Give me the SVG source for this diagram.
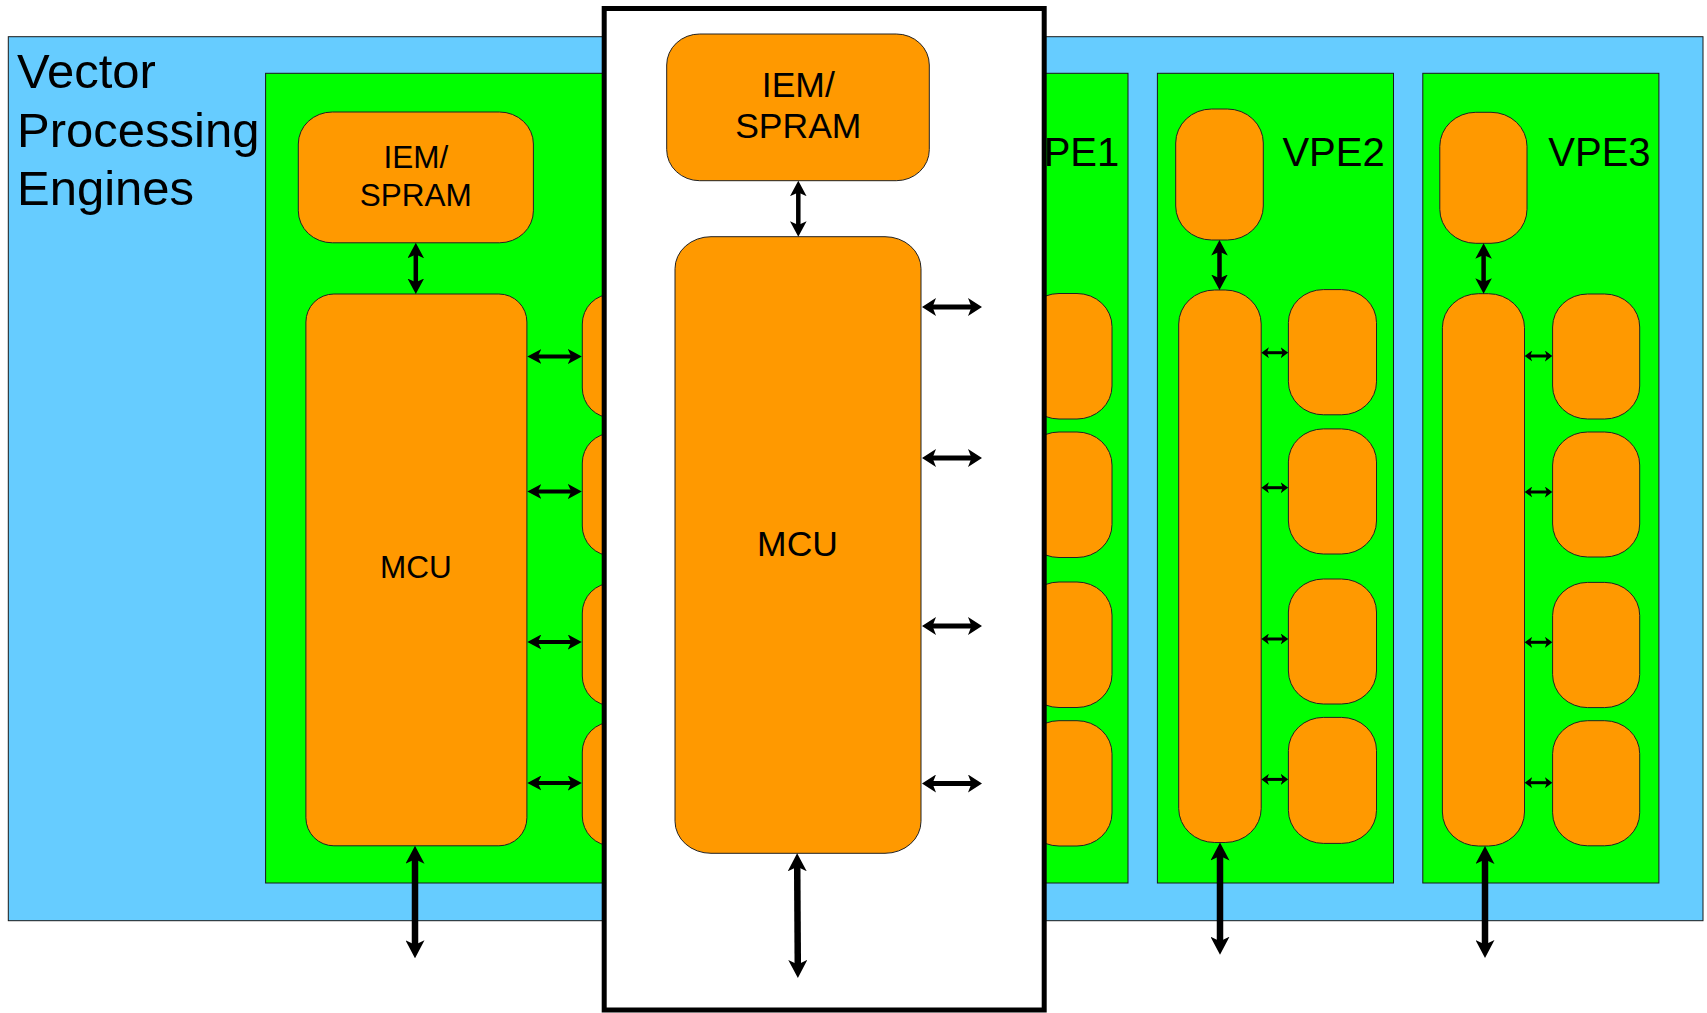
<svg xmlns="http://www.w3.org/2000/svg" width="1707" height="1013" viewBox="0 0 1707 1013">
<style>
.bg{fill:#66CCFF;stroke:#1a1a1a;stroke-width:1}
.vpe{fill:#00FF00;stroke:#1a1a1a;stroke-width:1}
.box{fill:#FF9900;stroke:#222;stroke-width:1}
.frame{fill:#FFFFFF;stroke:#000;stroke-width:5}
text{font-family:"Liberation Sans",Arial,sans-serif;fill:#000}
.title{font-size:49px}
.lbl{font-size:40px}
.t30{font-size:31.5px;text-anchor:middle}
.t34{font-size:35.5px;text-anchor:middle}
.a{stroke:#000;stroke-width:4;fill:none;marker-start:url(#ha);marker-end:url(#ha)}
.v{stroke:#000;stroke-width:4.5;fill:none;marker-start:url(#hv);marker-end:url(#hv)}
.d{stroke:#000;stroke-width:5;fill:none;marker-start:url(#hd);marker-end:url(#hd)}
.b{stroke:#000;stroke-width:6.5;fill:none;marker-start:url(#hb);marker-end:url(#hb)}
.c{stroke:#000;stroke-width:3;fill:none;marker-start:url(#hc);marker-end:url(#hc)}
</style>
<defs>
<marker id="ha" markerUnits="userSpaceOnUse" viewBox="0 -7.5 14 15" markerWidth="14" markerHeight="15" refX="4.5" refY="0" orient="auto-start-reverse"><path d="M0,-7.5 L14,0 L0,7.5 L3.5,0 Z" fill="#000"/></marker>
<marker id="hv" markerUnits="userSpaceOnUse" viewBox="0 -8.3 15.5 16.6" markerWidth="15.5" markerHeight="16.6" refX="4.6" refY="0" orient="auto-start-reverse"><path d="M0,-8.3 L15.5,0 L0,8.3 L3.8,0 Z" fill="#000"/></marker>
<marker id="hd" markerUnits="userSpaceOnUse" viewBox="0 -9 14 18" markerWidth="14" markerHeight="18" refX="4.5" refY="0" orient="auto-start-reverse"><path d="M0,-9 L14,0 L0,9 L3.5,0 Z" fill="#000"/></marker>
<marker id="hb" markerUnits="userSpaceOnUse" viewBox="0 -9.5 18 19" markerWidth="18" markerHeight="19" refX="5.5" refY="0" orient="auto-start-reverse"><path d="M0,-9.5 L18,0 L0,9.5 L4.5,0 Z" fill="#000"/></marker>
<marker id="hc" markerUnits="userSpaceOnUse" viewBox="0 -5.5 7.5 11" markerWidth="7.5" markerHeight="11" refX="2.4" refY="0" orient="auto-start-reverse"><path d="M0,-5.5 L7.5,0 L0,5.5 L2,0 Z" fill="#000"/></marker>
</defs>

<g id="vector-processing-engines">
<rect class="bg" x="8.3" y="36.7" width="1694.7" height="884"/>
<text class="title" x="17" y="88.3">Vector</text>
<text class="title" x="17" y="146.7">Processing</text>
<text class="title" x="17" y="205">Engines</text>
</g>

<g id="vpe0">
<rect class="vpe" x="265.6" y="73.3" width="450" height="809.7"/>
<g id="vpe0-iem"><rect class="box" x="298.3" y="112" width="235.1" height="130.8" rx="34" ry="32"/>
<text class="t30" x="415.8" y="168.3">IEM/</text><text class="t30" x="415.8" y="205.7">SPRAM</text></g>
<g id="vpe0-mcu"><rect class="box" x="305.9" y="294" width="221" height="551.8" rx="28" ry="28"/>
<text class="t30" x="415.8" y="578">MCU</text></g>
<g id="vpe0-u1"><rect class="box" x="582.3" y="294" width="88" height="124" rx="30" ry="30"/></g>
<g id="vpe0-u2"><rect class="box" x="582.3" y="433" width="88" height="123" rx="30" ry="30"/></g>
<g id="vpe0-u3"><rect class="box" x="582.3" y="583" width="88" height="123" rx="30" ry="30"/></g>
<g id="vpe0-u4"><rect class="box" x="582.3" y="722" width="88" height="124" rx="30" ry="30"/></g>
</g>

<g id="vpe1">
<rect class="vpe" x="892" y="73.3" width="236" height="809.7"/>
<text class="lbl" x="1017" y="166">VPE1</text>
<g id="vpe1-u1"><rect class="box" x="1024" y="293.5" width="88" height="125.5" rx="35" ry="33"/></g>
<g id="vpe1-u2"><rect class="box" x="1024" y="432" width="88" height="125.5" rx="35" ry="33"/></g>
<g id="vpe1-u3"><rect class="box" x="1024" y="582" width="88" height="125.5" rx="35" ry="33"/></g>
<g id="vpe1-u4"><rect class="box" x="1024" y="720.7" width="88" height="125.3" rx="35" ry="33"/></g>
</g>

<g id="vpe2">
<rect class="vpe" x="1157.4" y="73.3" width="236.1" height="809.7"/>
<text class="lbl" x="1282.4" y="166">VPE2</text>
<g id="vpe2-iem"><rect class="box" x="1175.7" y="109" width="87.6" height="131" rx="36" ry="34"/></g>
<g id="vpe2-mcu"><rect class="box" x="1178.7" y="290" width="82.5" height="552.5" rx="36" ry="34"/></g>
<g id="vpe2-u1"><rect class="box" x="1288.4" y="289.6" width="88.1" height="125.2" rx="35" ry="33"/></g>
<g id="vpe2-u2"><rect class="box" x="1288.4" y="428.9" width="88.1" height="125.1" rx="35" ry="33"/></g>
<g id="vpe2-u3"><rect class="box" x="1288.4" y="579" width="88.1" height="125" rx="35" ry="33"/></g>
<g id="vpe2-u4"><rect class="box" x="1288.4" y="717.4" width="88.1" height="126" rx="35" ry="33"/></g>
</g>

<g id="vpe3">
<rect class="vpe" x="1422.8" y="73.3" width="236.1" height="809.7"/>
<text class="lbl" x="1548.3" y="166">VPE3</text>
<g id="vpe3-iem"><rect class="box" x="1439.8" y="112.3" width="87.2" height="131" rx="36" ry="34"/></g>
<g id="vpe3-mcu"><rect class="box" x="1442.4" y="293.7" width="82.1" height="552.3" rx="36" ry="34"/></g>
<g id="vpe3-u1"><rect class="box" x="1552.6" y="294" width="87.1" height="125" rx="35" ry="33"/></g>
<g id="vpe3-u2"><rect class="box" x="1552.6" y="432" width="87.1" height="125" rx="35" ry="33"/></g>
<g id="vpe3-u3"><rect class="box" x="1552.6" y="582.4" width="87.1" height="125.2" rx="35" ry="33"/></g>
<g id="vpe3-u4"><rect class="box" x="1552.6" y="720.7" width="87.1" height="125.1" rx="35" ry="33"/></g>
</g>

<g id="vpe-detail">
<rect class="frame" x="604.2" y="8.5" width="440" height="1001.5"/>
<g id="detail-iem"><rect class="box" x="666.7" y="34" width="262.6" height="146.7" rx="33" ry="31"/>
<text class="t34" x="798.3" y="96.7">IEM/</text><text class="t34" x="798.3" y="138.3">SPRAM</text></g>
<g id="detail-mcu"><rect class="box" x="675" y="236.7" width="246" height="616.6" rx="36" ry="32"/>
<text class="t34" x="797.5" y="555.8">MCU</text></g>
</g>

<g id="connectors">
<line class="v" x1="415.8" y1="253.7" x2="415.8" y2="283.1"/>
<line class="a" x1="536.8" y1="356.5" x2="572.3" y2="356.5"/>
<line class="a" x1="536.8" y1="491.5" x2="572.3" y2="491.5"/>
<line class="a" x1="536.8" y1="642" x2="572.3" y2="642"/>
<line class="a" x1="536.8" y1="783" x2="572.3" y2="783"/>
<line class="b" x1="415" y1="858.3" x2="415" y2="945.8"/>

<line class="v" x1="798.3" y1="191.6" x2="798.3" y2="225.8"/>
<line class="d" x1="931.5" y1="307" x2="972.5" y2="307"/>
<line class="d" x1="931.5" y1="458" x2="972.5" y2="458"/>
<line class="d" x1="931.5" y1="626" x2="972.5" y2="626"/>
<line class="d" x1="931.5" y1="783.5" x2="972.5" y2="783.5"/>
<line class="b" x1="797.2" y1="865.8" x2="797.8" y2="965.5"/>

<line class="v" x1="1219.5" y1="250.9" x2="1219.5" y2="279.1"/>
<line class="c" x1="1266.5" y1="352.7" x2="1283.1" y2="352.7"/>
<line class="c" x1="1266.5" y1="487.7" x2="1283.1" y2="487.7"/>
<line class="c" x1="1266.5" y1="639" x2="1283.1" y2="639"/>
<line class="c" x1="1266.5" y1="779.4" x2="1283.1" y2="779.4"/>
<line class="b" x1="1220" y1="855" x2="1220" y2="942.2"/>

<line class="v" x1="1483.6" y1="254.2" x2="1483.6" y2="282.8"/>
<line class="c" x1="1529.8" y1="356" x2="1547.3" y2="356"/>
<line class="c" x1="1529.8" y1="492" x2="1547.3" y2="492"/>
<line class="c" x1="1529.8" y1="642.3" x2="1547.3" y2="642.3"/>
<line class="c" x1="1529.8" y1="782.7" x2="1547.3" y2="782.7"/>
<line class="b" x1="1485" y1="858.5" x2="1485" y2="945.5"/>
</g>
</svg>
